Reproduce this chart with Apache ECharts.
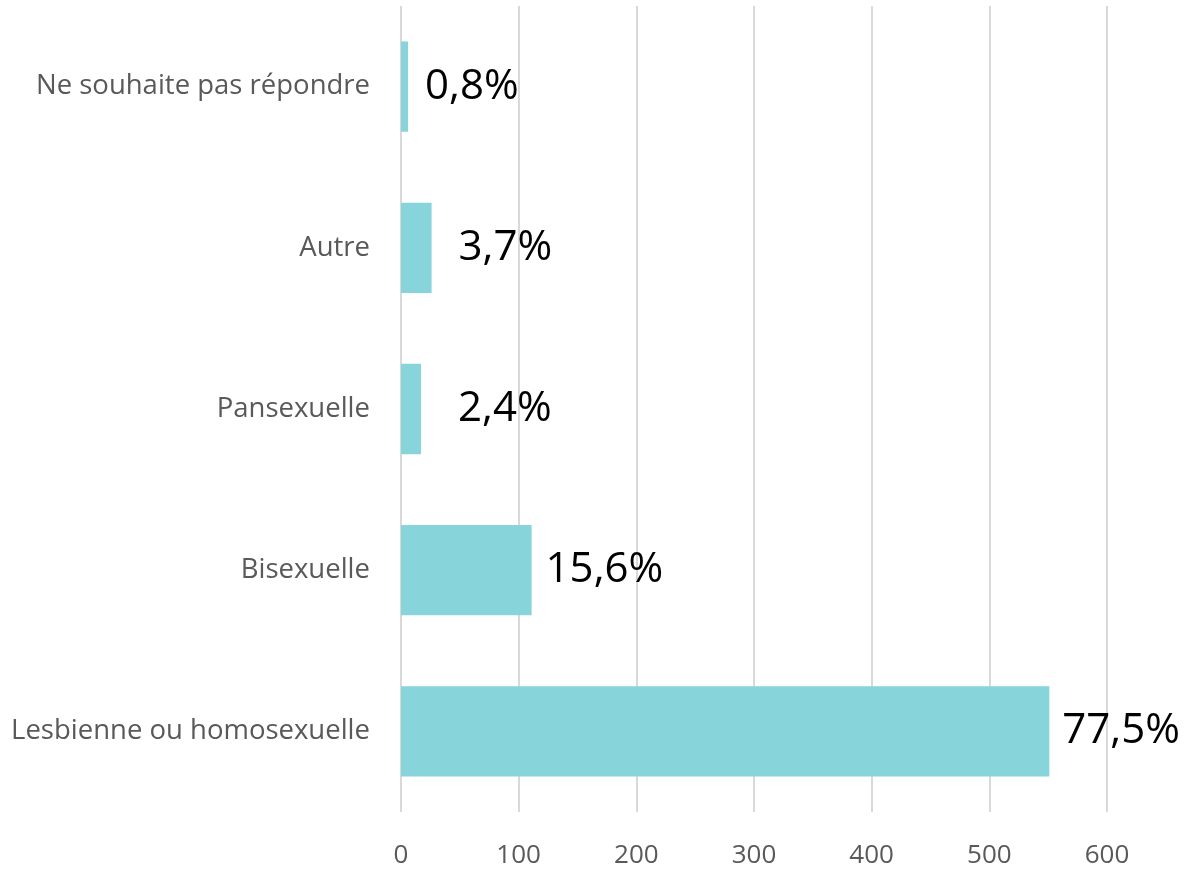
<!DOCTYPE html>
<html>
<head>
<meta charset="utf-8">
<title>Orientation sexuelle</title>
<script src="https://cdn.jsdelivr.net/npm/echarts@6/dist/echarts.min.js"></script>
<style>
  html, body { margin: 0; padding: 0; background: #ffffff; }
  #chart { width: 1186px; height: 870px; }
</style>
</head>
<body>
<div id="chart"></div>
<script>
// categories, bottom to top as the y axis draws them
const categories = ['Lesbienne ou homosexuelle', 'Bisexuelle', 'Pansexuelle', 'Autre', 'Ne souhaite pas répondre'];
const counts = [551, 111, 17, 26, 6];
const percentLabels = ['77,5%', '15,6%', '2,4%', '3,7%', '0,8%'];
const xTicks = [0, 100, 200, 300, 400, 500, 600];

// the two small bars have their labels pushed further right in the original
const labelGaps = [13, 14, 37, 27, 17];

const chart = echarts.init(document.getElementById('chart'));

const barData = counts.map((v, i) => ({
  value: v,
  label: { distance: labelGaps[i] }
}));

chart.setOption({
  animation: false,
  grid: {
    left: 401,
    right: 79,
    top: 6,
    bottom: 58
  },
  xAxis: {
    type: 'value',
    min: xTicks[0],
    max: xTicks[xTicks.length - 1],
    interval: 100,
    axisLine: { show: false },
    axisTick: { show: false },
    splitLine: { lineStyle: { color: '#d9d9d9', width: 2 } },
    axisLabel: {
      color: '#595959',
      fontSize: 26,
      fontFamily: 'Open Sans',
      margin: 31
    }
  },
  yAxis: {
    type: 'category',
    data: categories,
    axisLine: { show: false },
    axisTick: { show: false },
    axisLabel: {
      color: '#595959',
      fontSize: 27.5,
      fontFamily: 'Open Sans',
      margin: 31
    }
  },
  series: [{
    type: 'bar',
    data: barData,
    barCategoryGap: '44%',
    itemStyle: { color: '#87d5da' },
    label: {
      show: true,
      position: 'right',
      color: '#000000',
      fontSize: 42,
      fontFamily: 'Open Sans',
      formatter: p => percentLabels[p.dataIndex]
    }
  }]
});
</script>
</body>
</html>
